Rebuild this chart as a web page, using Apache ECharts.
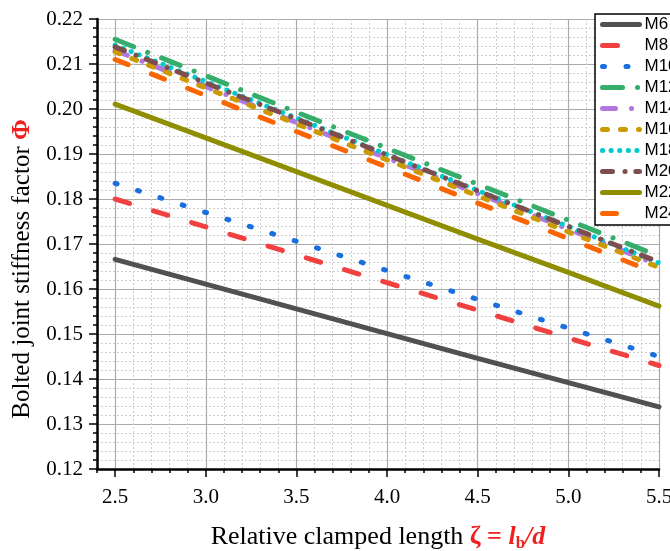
<!DOCTYPE html>
<html>
<head>
<meta charset="utf-8">
<script src="https://cdn.jsdelivr.net/npm/echarts@6/dist/echarts.min.js"></script>
<style>
html,body{margin:0;padding:0;background:#fff;}
#chart{width:670px;height:551px;}
</style>
</head>
<body>
<div id="chart"></div>
<script>
// ---- data ----
const zeta = [2.5, 3.0, 3.5, 4.0, 4.5, 5.0, 5.5];
const seriesNames = ['M6','M8','M10','M12','M14','M16','M18','M20','M22','M24'];
const M6  = [0.1666, 0.1611, 0.1556, 0.1501, 0.1446, 0.1392, 0.1338];
const M8  = [0.1800, 0.1738, 0.1676, 0.1614, 0.1553, 0.1491, 0.1430];
const M10 = [0.1835, 0.1770, 0.1706, 0.1641, 0.1577, 0.1513, 0.1450];
const M12 = [0.2155, 0.2074, 0.1993, 0.1913, 0.1833, 0.1753, 0.1673];
const M14 = [0.2130, 0.2050, 0.1970, 0.1891, 0.1812, 0.1733, 0.1653];
const M16 = [0.2127, 0.2047, 0.1967, 0.1887, 0.1807, 0.1727, 0.1648];
const M18 = [0.2142, 0.2061, 0.1980, 0.1899, 0.1819, 0.1739, 0.1658];
const M20 = [0.2138, 0.2058, 0.1978, 0.1898, 0.1818, 0.1739, 0.1660];
const M22 = [0.2011, 0.1936, 0.1861, 0.1786, 0.1711, 0.1637, 0.1562];
const M24 = [0.2110, 0.2030, 0.1950, 0.1871, 0.1791, 0.1712, 0.1633];
const seriesValues = [M6, M8, M10, M12, M14, M16, M18, M20, M22, M24];
const xTickLabels = [2.5, 3.0, 3.5, 4.0, 4.5, 5.0, 5.5];
const yTickLabels = [0.12, 0.13, 0.14, 0.15, 0.16, 0.17, 0.18, 0.19, 0.20, 0.21, 0.22];

// ---- styles ----
const colors = ['#515151','#F14040','#1A6FDF','#37AD6B','#B177DE','#CC9900','#00CBCC','#7D4E4E','#8E8E00','#FB6501'];
const dashes = ['solid',[15,25],[2,21.5],[20,15,0.1,15],[13,16,0.1,16],[5,13],[0.1,8.5],[10,12.5,0.1,10.7],'solid',[14,25]];

const series = seriesNames.map((n, i) => ({
  name: n,
  type: 'line',
  xAxisIndex: 0,
  yAxisIndex: 0,
  symbol: 'none',
  showSymbol: false,
  silent: true,
  lineStyle: { color: colors[i], width: 5, type: dashes[i], cap: 'round' },
  itemStyle: { color: colors[i] },
  data: zeta.map((x, k) => [x, seriesValues[i][k]])
}));

const serif = 'Liberation Serif, Times New Roman, serif';
const chart = echarts.init(document.getElementById('chart'));
chart.setOption({
  animation: false,
  backgroundColor: '#fff',
  grid: { left: 97, right: 11, top: 19, bottom: 82, containLabel: false, outerBoundsMode: 'none' },
  legend: {
    data: seriesNames,
    orient: 'vertical',
    left: 595, top: 14,
    padding: [2, 40, 3, 5],
    itemWidth: 37, itemHeight: 14, itemGap: 4,
    backgroundColor: '#fff',
    borderColor: '#000', borderWidth: 1.5,
    itemStyle: { opacity: 0, borderWidth: 0 },
    lineStyle: { width: 5, cap: 'round', opacity: 1 },
    textStyle: { fontFamily: 'Liberation Sans, Arial, sans-serif', fontSize: 17, color: '#000' }
  },
  xAxis: [
    {
      type: 'value', position: 'bottom',
      min: 2.4, max: 5.5, interval: 0.1,
      axisLine: { show: true, onZero: false, lineStyle: { color: '#000', width: 2.5 } },
      axisTick: { show: true, inside: false, length: 4, lineStyle: { color: '#000', width: 1.5 } },
      axisLabel: { show: false },
      splitLine: { show: true, lineStyle: { color: '#cfcfcf', width: 1, type: [2, 2] } }
    },
    {
      type: 'value', position: 'bottom',
      min: 2.4, max: 5.5,
      axisLine: { show: false, onZero: false },
      axisTick: { show: true, inside: false, length: 8, customValues: xTickLabels, lineStyle: { color: '#000', width: 1.5 } },
      axisLabel: { show: true, customValues: xTickLabels, margin: 18, formatter: v => v.toFixed(1),
        fontFamily: serif, fontSize: 21, color: '#000' },
      splitLine: { show: true, lineStyle: { color: '#ababab', width: 1.2 } },
      name: '{a|Relative clamped length }{r|ζ = }{ri|l}{sub|b}{ri|/d}',
      nameLocation: 'middle', nameGap: 54,
      nameTextStyle: {
        rich: {
          a: { fontFamily: serif, fontSize: 26, color: '#000' },
          r: { fontFamily: serif, fontSize: 26, color: '#F02020', fontWeight: 'bold' },
          ri: { fontFamily: serif, fontSize: 26, color: '#F02020', fontWeight: 'bold', fontStyle: 'italic' },
          sub: { fontFamily: serif, fontSize: 17, color: '#F02020', fontWeight: 'bold', verticalAlign: 'bottom', padding: [12, 0, 0, 0] }
        }
      }
    }
  ],
  yAxis: {
    type: 'value',
    min: 0.12, max: 0.22, interval: 0.01,
    axisLine: { show: true, onZero: false, lineStyle: { color: '#000', width: 2.5 } },
    axisTick: { show: true, inside: false, length: 8, lineStyle: { color: '#000', width: 1.5 } },
    minorTick: { show: true, splitNumber: 5, length: 4, lineStyle: { color: '#000', width: 1.5 } },
    axisLabel: { margin: 14, formatter: v => v.toFixed(2), fontFamily: serif, fontSize: 21, color: '#000' },
    splitLine: { show: true, lineStyle: { color: '#ababab', width: 1.2 } },
    minorSplitLine: { show: true, lineStyle: { color: '#cfcfcf', width: 1, type: [2, 2] } },
    name: '{a|Bolted joint stiffness factor }{phi|Φ}',
    nameLocation: 'middle', nameGap: 62,
    nameTextStyle: {
      padding: [0, 50, 0, 0],
      rich: {
        a: { fontFamily: serif, fontSize: 25, color: '#000' },
        phi: { fontFamily: serif, fontSize: 25, color: '#F02020', fontWeight: 'bold' }
      }
    }
  },
  series: series
});
</script>
</body>
</html>
